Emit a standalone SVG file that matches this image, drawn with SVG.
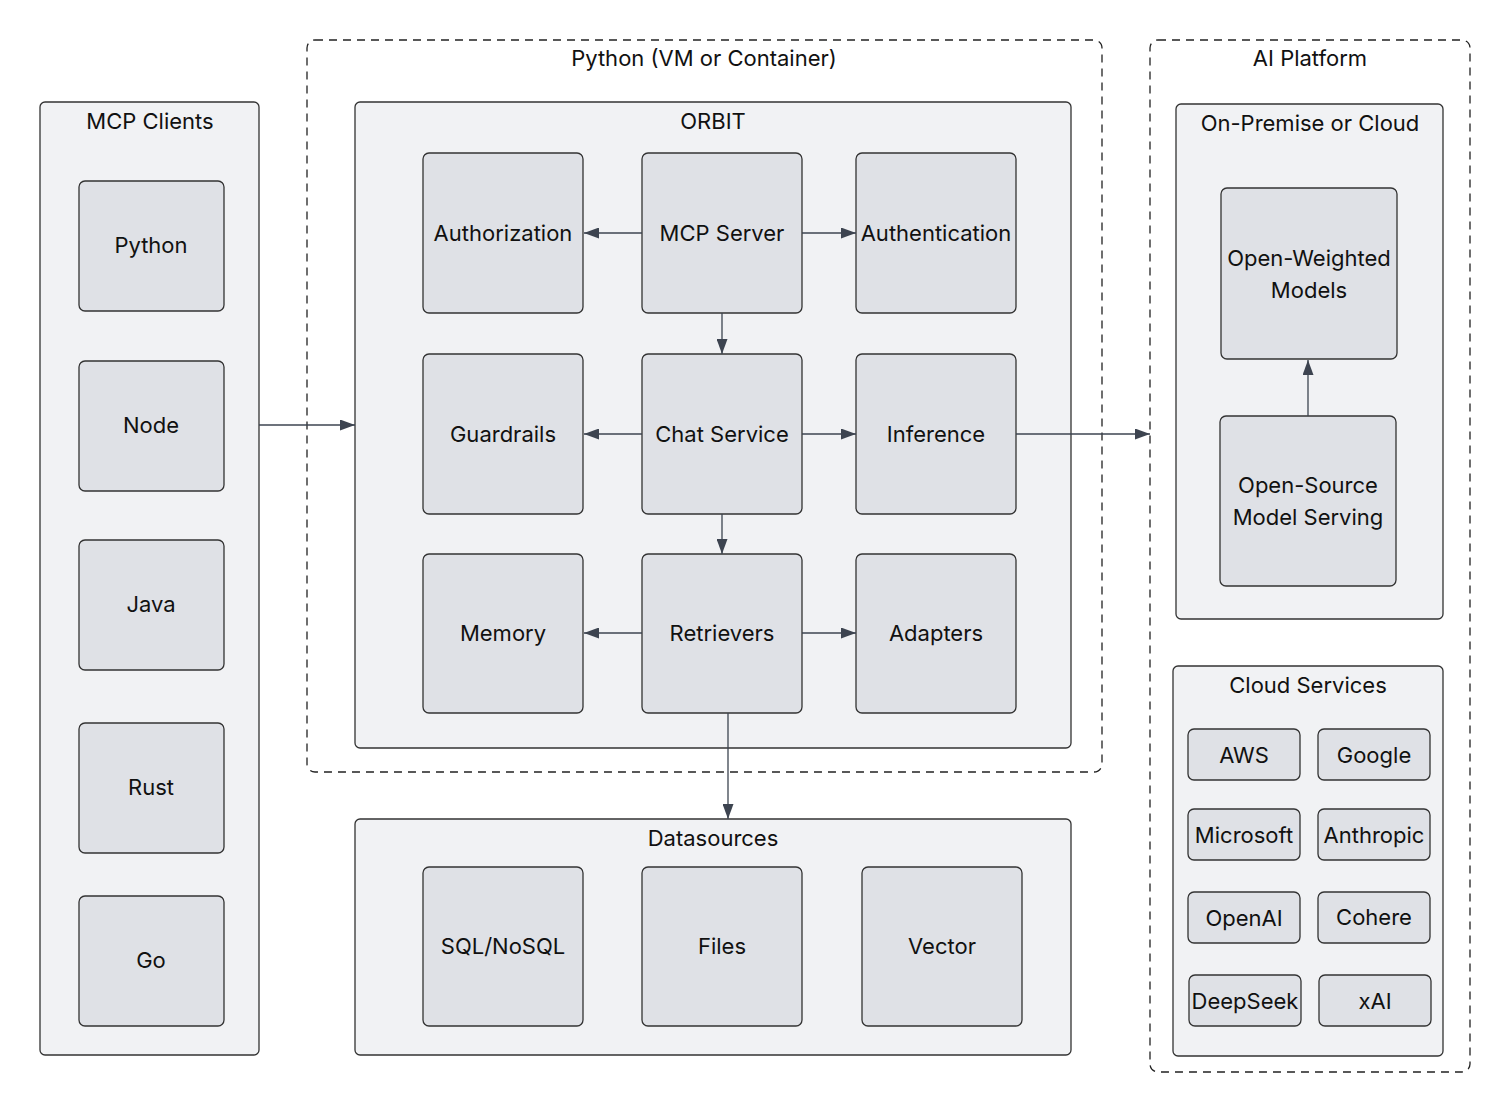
<svg xmlns="http://www.w3.org/2000/svg" width="1511" height="1114" viewBox="0 0 1511 1114">
<style>
text{font-family:Inter,"Noto Sans","Liberation Sans",sans-serif;font-size:22px;fill:#111;text-anchor:middle;dominant-baseline:central}
.dash{fill:none;stroke:#222;stroke-width:1.3;stroke-dasharray:8 6}
.cont{fill:#f1f2f4;stroke:#333;stroke-width:1.3}
.node{fill:#dfe1e6;stroke:#333;stroke-width:1.3}
.edge{fill:none;stroke:#3d4450;stroke-width:1.3;marker-end:url(#ah)}
</style>
<defs>
<marker id="ah" viewBox="0 0 15 11" refX="15" refY="5.5" markerWidth="15" markerHeight="11" markerUnits="userSpaceOnUse" orient="auto">
<path d="M0,0 L15,5.5 L0,11 z" fill="#3d4450"/>
</marker>
</defs>
<rect width="1511" height="1114" fill="#ffffff"/>

<g id="python-container">
<rect class="dash" x="307" y="40" width="795" height="732" rx="8"/>
<text x="704" y="58">Python (VM or Container)</text>
</g>
<g id="ai-platform">
<rect class="dash" x="1150" y="40" width="320" height="1032" rx="8"/>
<text x="1310" y="58">AI Platform</text>
</g>

<g id="mcp-clients">
<rect class="cont" x="40" y="102" width="219" height="953" rx="5"/>
<text x="150" y="121">MCP Clients</text>
</g>
<g id="client-python"><rect class="node" x="79" y="181" width="145" height="130" rx="6"/><text x="151" y="245">Python</text></g>
<g id="client-node"><rect class="node" x="79" y="361" width="145" height="130" rx="6"/><text x="151" y="425">Node</text></g>
<g id="client-java"><rect class="node" x="79" y="540" width="145" height="130" rx="6"/><text x="151" y="604">Java</text></g>
<g id="client-rust"><rect class="node" x="79" y="723" width="145" height="130" rx="6"/><text x="151" y="787">Rust</text></g>
<g id="client-go"><rect class="node" x="79" y="896" width="145" height="130" rx="6"/><text x="151" y="960">Go</text></g>

<g id="orbit">
<rect class="cont" x="355" y="102" width="716" height="646" rx="5"/>
<text x="713" y="121">ORBIT</text>
</g>
<g id="authorization"><rect class="node" x="423" y="153" width="160" height="160" rx="6"/><text x="503" y="233">Authorization</text></g>
<g id="mcp-server"><rect class="node" x="642" y="153" width="160" height="160" rx="6"/><text x="722" y="233">MCP Server</text></g>
<g id="authentication"><rect class="node" x="856" y="153" width="160" height="160" rx="6"/><text x="936" y="233">Authentication</text></g>
<g id="guardrails"><rect class="node" x="423" y="354" width="160" height="160" rx="6"/><text x="503" y="434">Guardrails</text></g>
<g id="chat-service"><rect class="node" x="642" y="354" width="160" height="160" rx="6"/><text x="722" y="434">Chat Service</text></g>
<g id="inference"><rect class="node" x="856" y="354" width="160" height="160" rx="6"/><text x="936" y="434">Inference</text></g>
<g id="memory"><rect class="node" x="423" y="554" width="160" height="159" rx="6"/><text x="503" y="633">Memory</text></g>
<g id="retrievers"><rect class="node" x="642" y="554" width="160" height="159" rx="6"/><text x="722" y="633">Retrievers</text></g>
<g id="adapters"><rect class="node" x="856" y="554" width="160" height="159" rx="6"/><text x="936" y="633">Adapters</text></g>

<g id="datasources">
<rect class="cont" x="355" y="819" width="716" height="236" rx="5"/>
<text x="713" y="838">Datasources</text>
</g>
<g id="sql"><rect class="node" x="423" y="867" width="160" height="159" rx="6"/><text x="503" y="946">SQL/NoSQL</text></g>
<g id="files"><rect class="node" x="642" y="867" width="160" height="159" rx="6"/><text x="722" y="946">Files</text></g>
<g id="vector"><rect class="node" x="862" y="867" width="160" height="159" rx="6"/><text x="942" y="946">Vector</text></g>

<g id="on-prem">
<rect class="cont" x="1176" y="104" width="267" height="515" rx="5"/>
<text x="1310" y="123">On-Premise or Cloud</text>
</g>
<g id="open-weighted"><rect class="node" x="1221" y="188" width="176" height="171" rx="6"/><text x="1309" y="258">Open-Weighted</text><text x="1309" y="290">Models</text></g>
<g id="open-source"><rect class="node" x="1220" y="416" width="176" height="170" rx="6"/><text x="1308" y="485">Open-Source</text><text x="1308" y="517">Model Serving</text></g>

<g id="cloud-services">
<rect class="cont" x="1173" y="666" width="270" height="390" rx="5"/>
<text x="1308" y="685">Cloud Services</text>
</g>
<g id="aws"><rect class="node" x="1188" y="729" width="112" height="51" rx="6"/><text x="1244" y="755">AWS</text></g>
<g id="google"><rect class="node" x="1318" y="729" width="112" height="51" rx="6"/><text x="1374" y="755">Google</text></g>
<g id="microsoft"><rect class="node" x="1188" y="809" width="112" height="51" rx="6"/><text x="1244" y="835">Microsoft</text></g>
<g id="anthropic"><rect class="node" x="1318" y="809" width="112" height="51" rx="6"/><text x="1374" y="835">Anthropic</text></g>
<g id="openai"><rect class="node" x="1188" y="892" width="112" height="51" rx="6"/><text x="1244" y="918">OpenAI</text></g>
<g id="cohere"><rect class="node" x="1318" y="892" width="112" height="51" rx="6"/><text x="1374" y="917">Cohere</text></g>
<g id="deepseek"><rect class="node" x="1189" y="975" width="112" height="51" rx="6"/><text x="1245" y="1001">DeepSeek</text></g>
<g id="xai"><rect class="node" x="1319" y="975" width="112" height="51" rx="6"/><text x="1375" y="1001">xAI</text></g>

<g id="connectors">
<path class="edge" d="M259,425 H355"/>
<path class="edge" d="M642,233 H584"/>
<path class="edge" d="M802,233 H856"/>
<path class="edge" d="M722,313 V354"/>
<path class="edge" d="M642,434 H584"/>
<path class="edge" d="M802,434 H856"/>
<path class="edge" d="M722,514 V554"/>
<path class="edge" d="M642,633 H584"/>
<path class="edge" d="M802,633 H856"/>
<path class="edge" d="M728,713 V819"/>
<path class="edge" d="M1016,434 H1150"/>
<path class="edge" d="M1308,416 V360"/>
</g>
</svg>
